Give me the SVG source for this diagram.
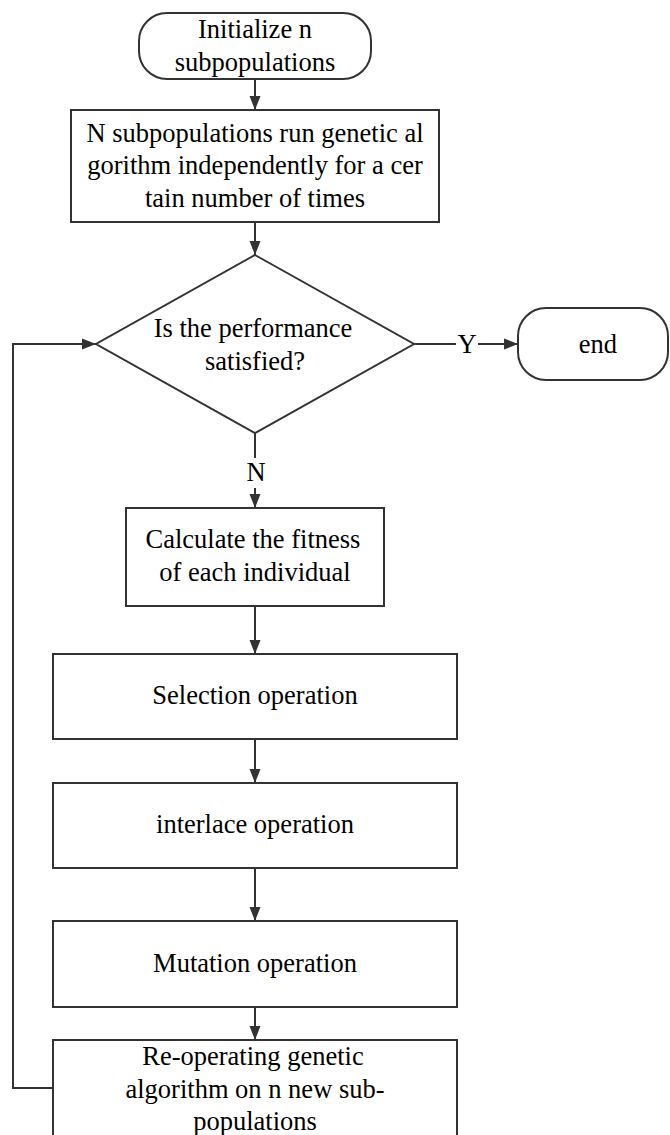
<svg xmlns="http://www.w3.org/2000/svg" width="670" height="1135" viewBox="0 0 670 1135">
<defs>
<style>
.s{fill:#fff;stroke:#333;stroke-width:2}
.c{fill:none;stroke:#333;stroke-width:2}
text{font-family:"Liberation Serif","DejaVu Serif",serif;font-size:26.5px;fill:#000;text-anchor:middle}
</style>
<marker id="ah" markerUnits="userSpaceOnUse" markerWidth="14" markerHeight="14" viewBox="0 0 14 14" refX="14" refY="7" orient="auto">
<path d="M0,1.5 L14,7 L0,12.5 Z" fill="#333"/>
</marker>
</defs>
<rect width="670" height="1135" fill="#fff"/>
<g id="connectors">
<line class="c" x1="255" y1="79" x2="255" y2="110" marker-end="url(#ah)"/>
<line class="c" x1="255" y1="222" x2="255" y2="255" marker-end="url(#ah)"/>
<line class="c" x1="414" y1="344" x2="456" y2="344"/>
<line class="c" x1="478" y1="344" x2="518" y2="344" marker-end="url(#ah)"/>
<text x="467" y="353">Y</text>
<line class="c" x1="255" y1="433" x2="255" y2="458"/>
<line class="c" x1="255" y1="488" x2="255" y2="508" marker-end="url(#ah)"/>
<text x="256" y="481">N</text>
<line class="c" x1="255" y1="606" x2="255" y2="654" marker-end="url(#ah)"/>
<line class="c" x1="255" y1="739" x2="255" y2="783" marker-end="url(#ah)"/>
<line class="c" x1="255" y1="868" x2="255" y2="921" marker-end="url(#ah)"/>
<line class="c" x1="255" y1="1007" x2="255" y2="1040" marker-end="url(#ah)"/>
<polyline class="c" points="53,1088 13,1088 13,344 96,344" marker-end="url(#ah)"/>
</g>
<g id="start">
<rect class="s" x="139" y="13" width="232" height="66" rx="28" ry="28"/>
<text x="255" y="38">Initialize n</text>
<text x="255" y="71">subpopulations</text>
</g>
<g id="run-ga">
<rect class="s" x="71" y="110" width="368" height="112"/>
<text x="255" y="142">N subpopulations run genetic al</text>
<text x="255" y="174">gorithm independently for a cer</text>
<text x="255" y="207">tain number of times</text>
</g>
<g id="decision">
<polygon class="s" points="255,255 414,344 255,433 96,344"/>
<text x="253" y="337">Is the performance</text>
<text x="255" y="370">satisfied?</text>
</g>
<g id="end">
<rect class="s" x="518" y="308" width="150" height="72" rx="28" ry="28"/>
<text x="598" y="353">end</text>
</g>
<g id="fitness">
<rect class="s" x="126" y="508" width="258" height="98"/>
<text x="253" y="548">Calculate the fitness</text>
<text x="255" y="581">of each individual</text>
</g>
<g id="selection">
<rect class="s" x="53" y="654" width="404" height="85"/>
<text x="255" y="704">Selection operation</text>
</g>
<g id="interlace">
<rect class="s" x="53" y="783" width="404" height="85"/>
<text x="255" y="833">interlace operation</text>
</g>
<g id="mutation">
<rect class="s" x="53" y="921" width="404" height="86"/>
<text x="255" y="972">Mutation operation</text>
</g>
<g id="reoperate">
<rect class="s" x="53" y="1040" width="404" height="110"/>
<text x="253" y="1065">Re-operating genetic</text>
<text x="255" y="1098">algorithm on n new sub-</text>
<text x="255" y="1130">populations</text>
</g>
</svg>
